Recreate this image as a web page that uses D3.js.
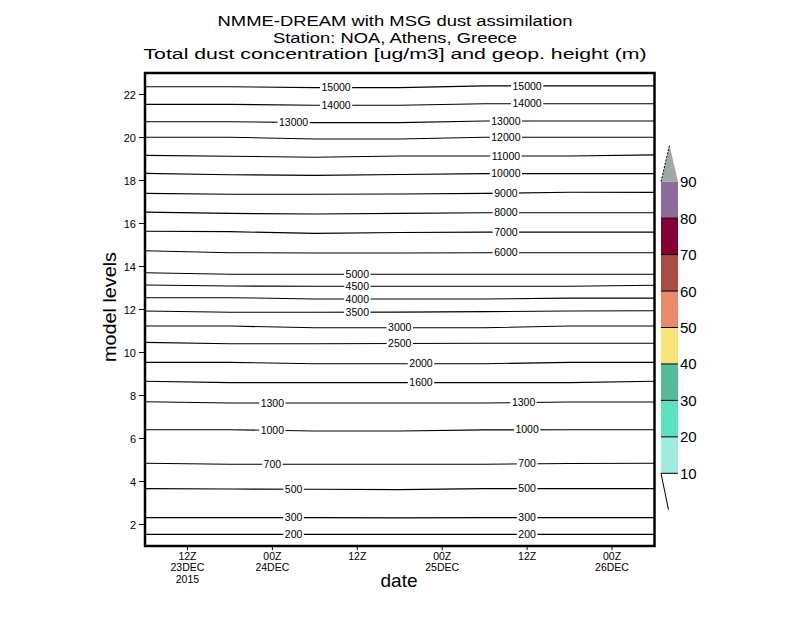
<!DOCTYPE html>
<html>
<head>
<meta charset="utf-8">
<script src="https://cdn.jsdelivr.net/npm/d3@7"></script>
<style>
  body { margin: 0; background: #fff; }
  text { font-family: "Liberation Sans", "DejaVu Sans", sans-serif; fill: #000; }
</style>
</head>
<body>
<div id="chart"></div>
<script>
// hours after 00Z 23DEC2015 where the contour levels were read
const hours = [6, 18, 30, 42, 54, 66, 78];

// geopotential height contours (m)
const contourValues = [15000, 14000, 13000, 12000, 11000, 10000, 9000, 8000, 7000, 6000,
    5000, 4500, 4000, 3500, 3000, 2500, 2000, 1600, 1300, 1000, 700, 500, 300, 200];

// model level of each contour at the times above
const contourLevels = [
    [22.36, 22.36, 22.32, 22.32, 22.40, 22.40, 22.40],
    [21.54, 21.54, 21.50, 21.50, 21.57, 21.57, 21.57],
    [20.73, 20.73, 20.69, 20.69, 20.77, 20.77, 20.77],
    [20.01, 20.01, 19.93, 19.93, 20.01, 20.01, 20.01],
    [19.17, 19.13, 19.08, 19.14, 19.14, 19.14, 19.19],
    [18.33, 18.27, 18.24, 18.28, 18.32, 18.32, 18.32],
    [17.40, 17.36, 17.36, 17.37, 17.40, 17.45, 17.45],
    [16.53, 16.47, 16.44, 16.47, 16.50, 16.50, 16.50],
    [15.64, 15.62, 15.54, 15.58, 15.60, 15.60, 15.60],
    [14.73, 14.64, 14.63, 14.63, 14.64, 14.64, 14.64],
    [13.71, 13.64, 13.64, 13.64, 13.64, 13.64, 13.64],
    [13.14, 13.09, 13.08, 13.08, 13.08, 13.08, 13.13],
    [12.55, 12.55, 12.49, 12.49, 12.49, 12.53, 12.53],
    [11.93, 11.87, 11.87, 11.88, 11.90, 11.93, 11.94],
    [11.23, 11.23, 11.15, 11.15, 11.15, 11.23, 11.23],
    [10.47, 10.41, 10.41, 10.42, 10.43, 10.43, 10.43],
    [9.54, 9.54, 9.48, 9.48, 9.48, 9.54, 9.54],
    [8.66, 8.60, 8.60, 8.60, 8.60, 8.60, 8.66],
    [7.71, 7.65, 7.65, 7.65, 7.65, 7.70, 7.70],
    [6.41, 6.41, 6.35, 6.35, 6.40, 6.41, 6.41],
    [4.85, 4.80, 4.80, 4.80, 4.80, 4.84, 4.85],
    [3.67, 3.65, 3.64, 3.62, 3.67, 3.67, 3.67],
    [2.32, 2.32, 2.32, 2.31, 2.32, 2.32, 2.32],
    [1.54, 1.54, 1.54, 1.54, 1.54, 1.54, 1.54]
];

// hours where each contour carries its label
const labelHours = [
    [33, 60], [33, 60], [27, 57], [57], [57], [57], [57], [57], [57], [57],
    [36], [36], [36], [36], [42], [42], [45], [45],
    [24, 59.5], [24, 60], [24, 60], [27, 60], [27, 60], [27, 60]
];

const yTicks = [2, 4, 6, 8, 10, 12, 14, 16, 18, 20, 22];
const xTickHours = [12, 24, 36, 48, 60, 72];
const xTickLabels = [["12Z", "23DEC", "2015"], ["00Z", "24DEC"], ["12Z"], ["00Z", "25DEC"], ["12Z"], ["00Z", "26DEC"]];

// dust colour scale
const dustLevels = [10, 20, 30, 40, 50, 60, 70, 80, 90];
const dustColors = ["#a0ebe0", "#5ce3bd", "#56bb9b", "#f6e479", "#ea8a6a", "#a94c43", "#840032", "#8d6a9c", "#a0a8a6"];

const titles = ["NMME-DREAM with MSG dust assimilation",
    "Station: NOA, Athens, Greece",
    "Total dust concentration [ug/m3] and geop. height (m)"];

const w = 800, h = 618;
const t0 = Date.UTC(2015, 11, 23);
const toDate = (hr) => new Date(t0 + hr * 3600 * 1000);

const svg = d3.select("#chart").append("svg")
    .attr("width", w)
    .attr("height", h);

const xScale = d3.scaleUtc()
    .domain([toDate(6), toDate(78)])
    .range([145, 654.5]);
const yScale = d3.scaleLinear()
    .domain([1, 23])
    .range([546, 73]);

// titles
const titleWidths = [355, 244, 503];
const titleY = [25.5, 43, 58.5];
svg.selectAll(".title")
    .data(titles)
    .enter()
    .append("text")
    .attr("class", "title")
    .attr("x", 395)
    .attr("y", (d, i) => titleY[i])
    .attr("text-anchor", "middle")
    .attr("font-size", 15.5)
    .attr("textLength", (d, i) => titleWidths[i])
    .attr("lengthAdjust", "spacingAndGlyphs")
    .text(d => d);

// contour lines
const line = d3.line()
    .x(d => xScale(toDate(d[0])))
    .y(d => yScale(d[1]));

const plot = svg.append("g");
contourValues.forEach((v, i) => {
    const pts = hours.map((hr, j) => [hr, contourLevels[i][j]]);
    plot.append("path")
        .attr("d", line(pts))
        .attr("fill", "none")
        .attr("stroke", "#000")
        .attr("stroke-width", 1.1);
});

// contour labels with a gap in the line
contourValues.forEach((v, i) => {
    const interp = d3.scaleLinear().domain(hours).range(contourLevels[i]);
    labelHours[i].forEach(hr => {
        const x = xScale(toDate(hr)), y = yScale(interp(hr));
        const g = plot.append("g");
        const rect = g.append("rect").attr("fill", "#fff");
        const txt = g.append("text")
            .attr("x", x)
            .attr("y", y + 3.6)
            .attr("text-anchor", "middle")
            .attr("font-size", 10.5)
            .text(v);
        const tw = txt.node().getComputedTextLength();
        rect.attr("x", x - tw / 2 - 1.5)
            .attr("y", y - 4)
            .attr("width", tw + 3)
            .attr("height", 8);
    });
});

// frame
svg.append("rect")
    .attr("x", 145)
    .attr("y", 73)
    .attr("width", 509.5)
    .attr("height", 473)
    .attr("fill", "none")
    .attr("stroke", "#000")
    .attr("stroke-width", 2.5);

// y axis
const yAxis = svg.append("g");
yAxis.selectAll("line")
    .data(yTicks)
    .enter()
    .append("line")
    .attr("x1", 139).attr("x2", 145)
    .attr("y1", d => yScale(d)).attr("y2", d => yScale(d))
    .attr("stroke", "#000");
yAxis.selectAll("text")
    .data(yTicks)
    .enter()
    .append("text")
    .attr("x", 136)
    .attr("y", d => yScale(d) + 4)
    .attr("text-anchor", "end")
    .attr("font-size", 11)
    .text(d => d);

// x axis
const xAxis = svg.append("g");
xAxis.selectAll("line")
    .data(xTickHours)
    .enter()
    .append("line")
    .attr("x1", d => xScale(toDate(d))).attr("x2", d => xScale(toDate(d)))
    .attr("y1", 546).attr("y2", 550)
    .attr("stroke", "#000");
xTickHours.forEach((hr, i) => {
    xTickLabels[i].forEach((s, k) => {
        xAxis.append("text")
            .attr("x", xScale(toDate(hr)))
            .attr("y", 559.5 + k * 11.7)
            .attr("text-anchor", "middle")
            .attr("font-size", 10.5)
            .text(s);
    });
});

// axis titles
svg.append("text")
    .attr("x", 399)
    .attr("y", 587)
    .attr("text-anchor", "middle")
    .attr("font-size", 19)
    .attr("textLength", 37)
    .attr("lengthAdjust", "spacingAndGlyphs")
    .text("date");
svg.append("text")
    .attr("transform", "translate(116,307) rotate(-90)")
    .attr("text-anchor", "middle")
    .attr("font-size", 19)
    .attr("textLength", 110)
    .attr("lengthAdjust", "spacingAndGlyphs")
    .text("model levels");

// colour bar
const cScale = d3.scaleLinear().domain([10, 90]).range([473.3, 181.7]);
const cbX0 = 661, cbX1 = 678;
const cb = svg.append("g");
cb.selectAll("rect")
    .data(dustLevels.slice(0, -1))
    .enter()
    .append("rect")
    .attr("x", cbX0)
    .attr("y", (d, i) => cScale(dustLevels[i + 1]))
    .attr("width", cbX1 - cbX0)
    .attr("height", (d, i) => cScale(d) - cScale(dustLevels[i + 1]))
    .attr("fill", (d, i) => dustColors[i]);
// top triangle (above 90)
const tipX = (cbX0 + cbX1) / 2;
cb.append("path")
    .attr("d", `M${cbX0},${cScale(90)}L${tipX},${cScale(100)}L${cbX1},${cScale(90)}Z`)
    .attr("fill", dustColors[dustColors.length - 1]);
cb.append("line")
    .attr("x1", cbX0).attr("y1", cScale(90))
    .attr("x2", tipX).attr("y2", cScale(100))
    .attr("stroke", "#000")
    .attr("stroke-dasharray", "2,1.5");
// bottom triangle (below 10) is white, only its left edge shows
cb.append("line")
    .attr("x1", cbX0).attr("y1", cScale(10))
    .attr("x2", tipX - 1).attr("y2", cScale(0))
    .attr("stroke", "#000");
cb.selectAll(".sep")
    .data(dustLevels.slice(0, -1))
    .enter()
    .append("line")
    .attr("class", "sep")
    .attr("x1", cbX0).attr("x2", cbX1)
    .attr("y1", d => cScale(d)).attr("y2", d => cScale(d))
    .attr("stroke", "#000");
cb.selectAll("text")
    .data(dustLevels)
    .enter()
    .append("text")
    .attr("x", 680)
    .attr("y", d => cScale(d) + 5.5)
    .attr("font-size", 15)
    .text(d => d);
</script>
</body>
</html>
